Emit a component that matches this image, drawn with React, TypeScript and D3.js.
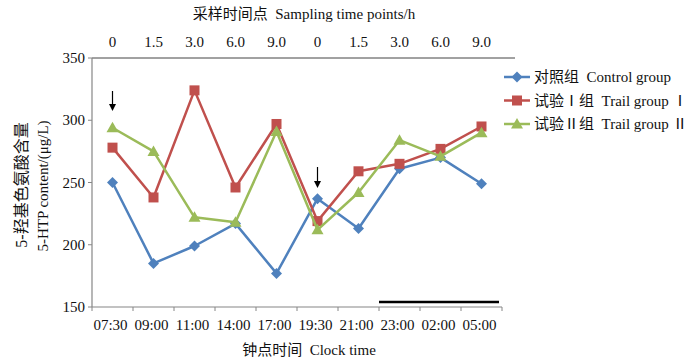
import React from "react";
import * as d3 from "d3";

const clockTimes = ["07:30", "09:00", "11:00", "14:00", "17:00", "19:30", "21:00", "23:00", "02:00", "05:00"];
const samplingTimes = ["0", "1.5", "3.0", "6.0", "9.0", "0", "1.5", "3.0", "6.0", "9.0"];
const controlGroup = [250, 185, 199, 217, 177, 237, 213, 261, 270, 249];
const trialGroup1 = [278, 238, 324, 246, 297, 219, 259, 265, 277, 295];
const trialGroup2 = [294, 275, 222, 218, 291, 212, 242, 284, 271, 290];
const yTicks = [150, 200, 250, 300, 350];

const seriesNames = ["对照组  Control group", "试验Ⅰ组  Trail group Ⅰ", "试验Ⅱ组  Trail group Ⅱ"];
const seriesColors = ["#4F81BD", "#C0504D", "#9BBB59"];
const seriesShapes = ["diamond", "square", "triangle"];
const seriesData = [controlGroup, trialGroup1, trialGroup2];

const W = 700, H = 361;
const left = 92, right = 502, top = 58, bottom = 307;
const FONT = "'Liberation Serif', 'Times New Roman', 'Noto Sans CJK SC', serif";
const pre = { whiteSpace: "pre" as const };

function Marker({ shape, x, y, color }: { shape: string; x: number; y: number; color: string }) {
  if (shape === "diamond") {
    const s = 5.5;
    return <path d={`M${x},${y - s}L${x + s},${y}L${x},${y + s}L${x - s},${y}Z`} fill={color} />;
  }
  if (shape === "square") {
    const s = 5;
    return <rect x={x - s} y={y - s} width={2 * s} height={2 * s} fill={color} />;
  }
  const s = 6;
  return <path d={`M${x},${y - s}L${x + s},${y + s * 0.75}L${x - s},${y + s * 0.75}Z`} fill={color} />;
}

export default function App() {
  const x = d3.scaleBand<string>().domain(clockTimes.map((_, i) => String(i))).range([left, right]);
  const y = d3.scaleLinear().domain([150, 350]).range([bottom, top]);
  const cx = (i: number) => (x(String(i)) as number) + x.bandwidth() / 2;
  const line = d3.line<number>().x((_, i) => cx(i)).y((d) => y(d));
  const bw = x.bandwidth();

  return (
    <svg width={W} height={H} style={{ position: "absolute", left: 0, top: 0, background: "#fff" }} fontFamily={FONT}>
      {/* top title */}
      <text x={304} y={19} fontSize={15} textAnchor="middle" fill="#111" style={pre}>采样时间点  Sampling time points/h</text>
      {samplingTimes.map((t, i) => (
        <text key={"s" + i} x={cx(i)} y={47} fontSize={15} textAnchor="middle" fill="#111">{t}</text>
      ))}
      <line x1={left} x2={515} y1={top} y2={top} stroke="#444" strokeWidth={1} />

      {/* axes */}
      <line x1={left} x2={left} y1={top} y2={bottom} stroke="#868686" strokeWidth={1.2} />
      <line x1={left} x2={right} y1={bottom} y2={bottom} stroke="#868686" strokeWidth={1.2} />
      {yTicks.map((t) => (
        <g key={"y" + t}>
          <line x1={left - 4} x2={left} y1={y(t)} y2={y(t)} stroke="#868686" />
          <text x={left - 7} y={y(t) + 5} fontSize={15} textAnchor="end" fill="#111">{t}</text>
        </g>
      ))}
      {clockTimes.map((t, i) => (
        <g key={"x" + i}>
          <line x1={left + bw * (i + 1)} x2={left + bw * (i + 1)} y1={bottom} y2={bottom + 4} stroke="#868686" />
          <text x={cx(i) - 2} y={330} fontSize={15} textAnchor="middle" fill="#111">{t}</text>
        </g>
      ))}
      <line x1={left} x2={left} y1={bottom} y2={bottom + 4} stroke="#868686" />

      {/* night bar */}
      <line x1={379} x2={499} y1={302} y2={302} stroke="#000" strokeWidth={2.5} />

      {/* series */}
      {seriesData.map((data, si) => (
        <g key={"ser" + si}>
          <path d={line(data) as string} fill="none" stroke={seriesColors[si]} strokeWidth={2.5} strokeLinejoin="round" />
          {data.map((v, i) => (
            <Marker key={i} shape={seriesShapes[si]} x={cx(i)} y={y(v)} color={seriesColors[si]} />
          ))}
        </g>
      ))}

      {/* arrows */}
      {[0, 5].map((i) => {
        const ax = cx(i);
        const y0 = i === 0 ? 91 : 167;
        const y1 = i === 0 ? 111 : 188;
        return (
          <g key={"a" + i}>
            <line x1={ax} x2={ax} y1={y0} y2={y1 - 5} stroke="#000" strokeWidth={1.2} />
            <path d={`M${ax - 3.5},${y1 - 7}L${ax + 3.5},${y1 - 7}L${ax},${y1}Z`} fill="#000" />
          </g>
        );
      })}

      {/* legend */}
      {seriesNames.map((n, si) => {
        const ly = 77 + si * 23.5;
        return (
          <g key={"l" + si}>
            <line x1={504} x2={530} y1={ly} y2={ly} stroke={seriesColors[si]} strokeWidth={2.5} />
            <Marker shape={seriesShapes[si]} x={517} y={ly} color={seriesColors[si]} />
            <text x={534} y={ly + 5} fontSize={15} fill="#111" style={pre}>{n}</text>
          </g>
        );
      })}

      {/* axis titles */}
      <text x={309} y={355} fontSize={15} textAnchor="middle" fill="#111" style={pre}>钟点时间  Clock time</text>
      <text transform="translate(27,185) rotate(-90)" fontSize={16} textAnchor="middle" fill="#111">5-羟基色氨酸含量</text>
      <text transform="translate(48,186) rotate(-90)" fontSize={15} textAnchor="middle" fill="#111">5-HTP content/(μg/L)</text>
    </svg>
  );
}
